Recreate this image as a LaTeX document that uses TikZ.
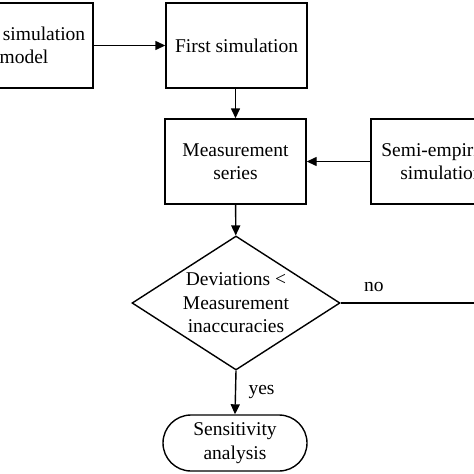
\documentclass[tikz,border=0pt]{standalone}
\usepackage{fontspec}
\setmainfont{Liberation Serif}
\usetikzlibrary{shapes,arrows.meta,positioning}
\tikzstyle{block} = [draw, line width=1.4pt, rectangle, minimum width=141pt, minimum height=85pt, inner sep=0pt, align=center, font=\fontsize{19.5}{23.5}\selectfont]
\tikzstyle{decision} = [draw, line width=1.4pt, diamond, aspect=1.55, minimum width=208pt, minimum height=134pt, inner sep=-12pt, align=center, font=\fontsize{19.5}{23.5}\selectfont]
\tikzstyle{terminal} = [draw, line width=1.4pt, rounded rectangle, minimum width=144pt, minimum height=56pt, inner sep=0pt, align=center, font=\fontsize{19.5}{23.5}\selectfont]
\tikzstyle{lbl} = [font=\fontsize{19.5}{23.5}\selectfont]
\tikzstyle{arrow} = [line width=1.4pt, -{Triangle[length=10pt,width=9pt]}]

\begin{document}
\begin{tikzpicture}[x=1pt,y=-1pt]
\clip (0,0) rectangle (474,474);
%blocks
\node[block, minimum width=138pt] (model) at (24,45.5) {\hspace*{40pt}simulation\\model};
\node[block] (firstsim) at (236.5,45.5) {First simulation};
\node[block] (meas) at (235.5,161.5) {Measurement\\series};
\node[block] (semi) at (441.5,161.5) {Semi-empirical\\simulation};
\node[decision] (dev) at (236,303) {Deviations <\\Measurement\\inaccuracies};
\node[terminal] (sens) at (235,443) {Sensitivity\\analysis};
\coordinate (noend) at (485,303);

%connectors
\draw[arrow] (model) -- (firstsim);
\draw[arrow] (firstsim.south -| meas.north) -- (meas.north);
\draw[arrow] (semi) -- (meas);
\draw[arrow] (meas) -- (dev);
\draw[line width=1.4pt] (dev.east) -- (noend)
    node[lbl, pos=0.23, above=7pt] {no};
\draw[arrow] (dev.south) -- (sens.north)
    node[lbl, midway, right=9pt] {yes};
\end{tikzpicture}
\end{document}
